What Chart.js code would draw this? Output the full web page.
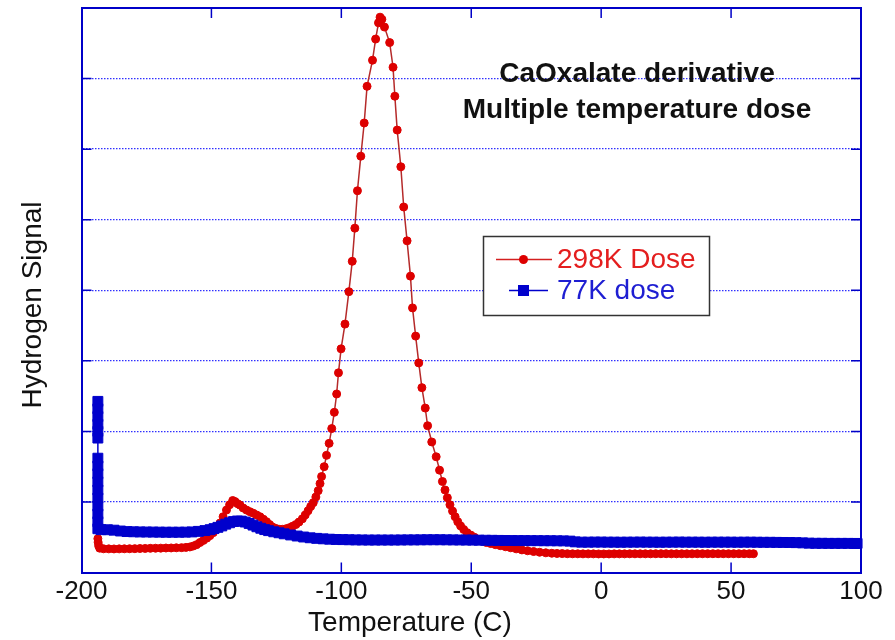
<!DOCTYPE html>
<html>
<head>
<meta charset="utf-8">
<script src="https://cdn.jsdelivr.net/npm/chart.js@4.4.0/dist/chart.umd.min.js"></script>
<style>
  html, body { margin: 0; padding: 0; background: #fff; }
  #wrap { width: 895px; height: 640px; }
</style>
</head>
<body>
<div id="wrap"><canvas id="chart" width="895" height="640"></canvas></div>
<script>
// 298K dose: temperature (C) and signal
const redTemp = [
  -193.7, -193.6, -193.4, -193.0, -191.5, -189.5, -187.5, -185.5, -183.5, -181.5,
  -179.5, -177.5, -175.5, -173.5, -171.5, -169.5, -167.5, -165.5, -163.5, -161.5,
  -159.8, -158.3, -157.0, -155.7, -154.4, -153.1, -151.8, -150.6, -149.3, -148.0,
  -146.7, -145.5, -144.2, -143.0, -141.8, -140.9, -139.9, -139.0, -137.8, -136.5,
  -135.2, -133.9, -132.6, -131.3, -130.0, -128.8, -127.6, -126.5, -125.2, -123.9,
  -122.6, -121.3, -120.0, -118.8, -117.5, -116.3, -115.0, -113.9, -112.8, -111.8,
  -110.8, -109.8, -108.9, -108.2, -107.6, -106.6, -105.7, -104.7, -103.7, -102.7,
  -101.8, -101.1, -100.1, -98.6, -97.1, -95.8, -94.8, -93.8, -92.5, -91.2,
  -90.1, -88.0, -86.8, -85.7, -85.1, -84.4, -83.4, -81.4, -80.1, -79.4,
  -78.5, -77.1, -76.0, -74.7, -73.4, -72.6, -71.4, -70.2, -69.0, -67.7,
  -66.8, -65.2, -63.5, -62.2, -61.1, -60.1, -59.2, -58.2, -57.2, -56.2,
  -55.2, -54.1, -52.9, -51.6, -50.2, -48.8, -47.3, -45.8, -44.2, -42.5,
  -40.7, -38.8, -36.8, -34.8, -32.7, -30.5, -28.3, -26.0, -23.7, -21.3,
  -19.0, -17, -15, -13, -11, -9, -7, -5, -3, -1,
  1, 3, 5, 7, 9, 11, 13, 15, 17, 19,
  21, 23, 25, 27, 29, 31, 33, 35, 37, 39,
  41, 43, 45, 47, 49, 51, 53, 55, 57, 58.6
];
const redSignal = [
  0.48, 0.43, 0.38, 0.345, 0.336, 0.335, 0.334, 0.335, 0.336, 0.337,
  0.338, 0.340, 0.341, 0.343, 0.344, 0.345, 0.347, 0.348, 0.350, 0.352,
  0.356, 0.362, 0.375, 0.395, 0.425, 0.455, 0.487, 0.522, 0.565, 0.615,
  0.70, 0.79, 0.885, 0.96, 1.02, 1.005, 0.975, 0.955, 0.915, 0.885,
  0.862, 0.84, 0.815, 0.79, 0.755, 0.72, 0.68, 0.645, 0.625, 0.612,
  0.612, 0.62, 0.635, 0.655, 0.68, 0.715, 0.76, 0.815, 0.875, 0.935,
  0.99, 1.07, 1.16, 1.26, 1.36, 1.50, 1.66, 1.83, 2.04, 2.27,
  2.53, 2.83, 3.17, 3.52, 3.98, 4.41, 4.88, 5.41, 5.90, 6.37,
  6.89, 7.26, 7.56, 7.79, 7.87, 7.84, 7.73, 7.51, 7.16, 6.75,
  6.27, 5.75, 5.18, 4.70, 4.20, 3.75, 3.35, 2.97, 2.62, 2.33,
  2.08, 1.85, 1.64, 1.45, 1.29, 1.17, 1.06, 0.96, 0.87, 0.79,
  0.72, 0.66, 0.61, 0.565, 0.53, 0.50, 0.47, 0.445, 0.425, 0.41,
  0.395, 0.38, 0.365, 0.35, 0.335, 0.32, 0.308, 0.297, 0.287, 0.279,
  0.273, 0.27, 0.268, 0.266, 0.265, 0.265, 0.264, 0.264, 0.264, 0.263,
  0.263, 0.263, 0.264, 0.264, 0.264, 0.265, 0.265, 0.265, 0.265, 0.265,
  0.266, 0.266, 0.266, 0.265, 0.265, 0.265, 0.265, 0.265, 0.266, 0.266,
  0.266, 0.266, 0.266, 0.266, 0.266, 0.266, 0.266, 0.266, 0.266, 0.266
];

// 77K dose
const blueTemp = [
  -193.7, -193.7, -193.7, -193.7, -193.7, -193.7, -193.7, -193.7, -193.7, -193.7,
  -193.7, -193.7, -193.7, -193.7, -193.7, -193.7,
  -192.5, -190, -187.5, -185, -182.5, -180, -177.5, -175, -172.5, -170,
  -167.5, -165, -162.5, -160, -157.5, -155, -152.5, -150.5, -149, -147.5,
  -146, -144.5, -143, -141.5, -140, -138.5, -137, -135.5, -134, -132.5,
  -131, -129.5, -128, -126, -124, -122, -119.5, -117, -114.5, -112,
  -109.5, -107, -104.5, -102, -99.5, -97, -94.5, -92, -89.5, -87,
  -84.5, -82, -79.5, -77, -74.5, -72, -69.5, -67, -64.5, -62,
  -59.5, -57, -54.5, -52, -49.5, -47, -44.5, -42, -39.5, -37,
  -34.5, -32, -29.5, -27, -24.5, -22, -19.5, -17, -14.5, -12,
  -10, -7.5, -5, -2.5, 0, 2.5, 5, 7.5, 10, 12.5,
  15, 17.5, 20, 22.5, 25, 27.5, 30, 32.5, 35, 37.5,
  40, 42.5, 45, 47.5, 50, 52.5, 55, 57.5, 60, 62.5,
  65, 67.5, 70, 72.5, 75, 77.5, 80, 82.5, 85, 87.5,
  90, 92.5, 95, 97.5, 98.5
];
const blueSignal = [
  2.425, 2.32, 2.21, 2.10, 2.00, 1.905, 1.62, 1.51, 1.40, 1.285,
  1.17, 1.055, 0.94, 0.83, 0.72, 0.62,
  0.607, 0.606, 0.600, 0.588, 0.580, 0.577, 0.575, 0.574, 0.573, 0.572,
  0.571, 0.571, 0.571, 0.572, 0.575, 0.583, 0.594, 0.607, 0.622, 0.64,
  0.66, 0.685, 0.705, 0.722, 0.73, 0.728, 0.715, 0.695, 0.672, 0.648,
  0.627, 0.608, 0.593, 0.577, 0.563, 0.548, 0.532, 0.517, 0.503, 0.492,
  0.484, 0.477, 0.472, 0.468, 0.466, 0.464, 0.462, 0.461, 0.46, 0.46,
  0.46, 0.46, 0.46, 0.461, 0.462, 0.462, 0.463, 0.464, 0.464, 0.464,
  0.463, 0.462, 0.461, 0.46, 0.459, 0.458, 0.457, 0.456, 0.455, 0.454,
  0.453, 0.452, 0.452, 0.451, 0.451, 0.45, 0.45, 0.449, 0.448, 0.445,
  0.434, 0.43, 0.43, 0.431, 0.431, 0.43, 0.43, 0.429, 0.43, 0.43,
  0.431, 0.43, 0.43, 0.429, 0.43, 0.43, 0.431, 0.43, 0.43, 0.43,
  0.429, 0.43, 0.43, 0.43, 0.43, 0.429, 0.43, 0.43, 0.429, 0.428,
  0.428, 0.427, 0.426, 0.425, 0.423, 0.42, 0.416, 0.414, 0.414, 0.413,
  0.413, 0.413, 0.413, 0.412, 0.412
];

const xTicks = [-200, -150, -100, -50, 0, 50, 100];
const seriesNames = ["298K Dose", "77K dose"];
const titleLines = ["CaOxalate derivative", "Multiple temperature dose"];
const xTitle = "Temperature (C)";
const yTitle = "Hydrogen Signal";

const axisBlue = "#0000c8";
const gridBlue = "#3030ff";
const redMark = "#dd0000";
const blueMark = "#0000cc";

Chart.defaults.font.family = "'Liberation Sans', Arial, sans-serif";

const toPoints = (xs, ys) => xs.map((x, i) => ({ x: x, y: ys[i] }));

// top/right frame and inward tick marks
const framePlugin = {
  id: "frame",
  beforeDatasetsDraw(chart) {
    const { ctx, chartArea: a, scales } = chart;
    ctx.save();
    ctx.strokeStyle = axisBlue;
    ctx.lineWidth = 2;
    ctx.beginPath();
    ctx.moveTo(a.left, a.top);
    ctx.lineTo(a.right, a.top);
    ctx.lineTo(a.right, a.bottom);
    ctx.stroke();

    ctx.lineWidth = 1.5;
    ctx.beginPath();
    xTicks.slice(1, -1).forEach(v => {
      const x = scales.x.getPixelForValue(v);
      ctx.moveTo(x, a.bottom);
      ctx.lineTo(x, a.bottom - 10);
      ctx.moveTo(x, a.top);
      ctx.lineTo(x, a.top + 10);
    });
    for (let v = 1; v < 8; v++) {
      const y = scales.y.getPixelForValue(v);
      ctx.moveTo(a.left, y);
      ctx.lineTo(a.left + 10, y);
      ctx.moveTo(a.right, y);
      ctx.lineTo(a.right - 10, y);
    }
    ctx.stroke();
    ctx.restore();
  }
};

// legend box, inner title, axis titles
const textPlugin = {
  id: "texts",
  afterDraw(chart) {
    const ctx = chart.ctx;
    const fam = Chart.defaults.font.family;
    ctx.save();

    // legend
    ctx.fillStyle = "#fff";
    ctx.fillRect(483.5, 236.5, 226, 79);
    ctx.strokeStyle = "#333";
    ctx.lineWidth = 1.5;
    ctx.strokeRect(483.5, 236.5, 226, 79);

    ctx.strokeStyle = "#d42020";
    ctx.lineWidth = 1.5;
    ctx.beginPath();
    ctx.moveTo(496, 259.5);
    ctx.lineTo(552, 259.5);
    ctx.stroke();
    ctx.fillStyle = redMark;
    ctx.beginPath();
    ctx.arc(523.5, 259.5, 4.5, 0, Math.PI * 2);
    ctx.fill();

    ctx.strokeStyle = blueMark;
    ctx.beginPath();
    ctx.moveTo(509, 290.5);
    ctx.lineTo(548, 290.5);
    ctx.stroke();
    ctx.fillStyle = blueMark;
    ctx.fillRect(518, 285, 11, 11);

    ctx.font = "28px " + fam;
    ctx.textBaseline = "middle";
    ctx.textAlign = "left";
    ctx.fillStyle = "#e41e1e";
    ctx.fillText(seriesNames[0], 557, 260);
    ctx.fillStyle = "#1e1ed2";
    ctx.fillText(seriesNames[1], 557, 291);

    // inner title
    ctx.font = "bold 28px " + fam;
    ctx.fillStyle = "#111";
    ctx.textAlign = "center";
    ctx.textBaseline = "alphabetic";
    ctx.fillText(titleLines[0], 637, 82);
    ctx.fillText(titleLines[1], 637, 117.5);

    // x title
    ctx.font = "28px " + fam;
    ctx.textBaseline = "middle";
    ctx.fillText(xTitle, 410, 623);

    // y title
    ctx.translate(33, 305);
    ctx.rotate(-Math.PI / 2);
    ctx.fillText(yTitle, 0, 0);
    ctx.restore();
  }
};

new Chart(document.getElementById("chart").getContext("2d"), {
  type: "line",
  data: {
    datasets: [
      {
        label: seriesNames[0],
        data: toPoints(redTemp, redSignal),
        borderColor: "#b52a2a",
        borderWidth: 1.5,
        pointStyle: "circle",
        pointRadius: 4,
        pointBackgroundColor: redMark,
        pointBorderColor: redMark,
        pointBorderWidth: 1,
        tension: 0,
        order: 2,
        clip: false
      },
      {
        label: seriesNames[1],
        data: toPoints(blueTemp, blueSignal),
        borderColor: blueMark,
        borderWidth: 1.5,
        pointStyle: "rect",
        pointRadius: 7,
        pointBackgroundColor: blueMark,
        pointBorderColor: blueMark,
        pointBorderWidth: 1,
        tension: 0,
        order: 1,
        clip: false
      }
    ]
  },
  options: {
    responsive: false,
    animation: false,
    events: [],
    layout: { padding: { top: 7.5, right: 34, left: 0, bottom: 0 } },
    plugins: {
      legend: { display: false },
      tooltip: { enabled: false },
      title: { display: false }
    },
    scales: {
      x: {
        type: "linear",
        min: -200,
        max: 100,
        afterBuildTicks: s => { s.ticks = xTicks.map(v => ({ value: v })); },
        afterFit: s => { s.height = 67.5; },
        grid: { display: false, drawTicks: false, tickLength: 0 },
        border: { display: true, color: axisBlue, width: 2 },
        ticks: { color: "#111", font: { size: 26 }, padding: 4, maxRotation: 0 }
      },
      y: {
        min: 0,
        max: 8,
        afterFit: s => { s.width = 81.5; },
        ticks: { display: false, stepSize: 1 },
        grid: { color: gridBlue, lineWidth: 1.3, drawTicks: false },
        border: { display: true, color: axisBlue, width: 2, dash: [1.5, 1.5] }
      }
    }
  },
  plugins: [framePlugin, textPlugin]
});
</script>
</body>
</html>
